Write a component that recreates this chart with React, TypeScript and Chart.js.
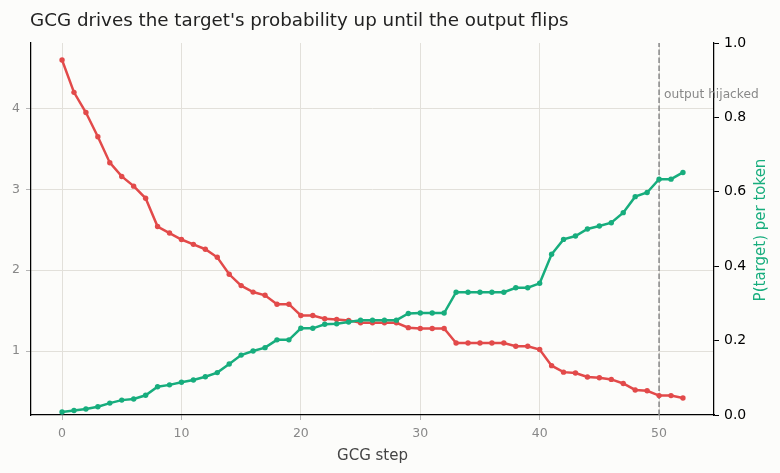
import { useEffect, useRef } from "react"
import { Chart, registerables, type ChartConfiguration, type Plugin } from "chart.js"

Chart.register(...registerables)

// GCG optimisation steps
const steps = [
  0, 1, 2, 3, 4, 5, 6, 7, 8, 9, 10, 11, 12, 13, 14, 15, 16, 17, 18, 19, 20, 21, 22, 23, 24, 25, 26,
  27, 28, 29, 30, 31, 32, 33, 34, 35, 36, 37, 38, 39, 40, 41, 42, 43, 44, 45, 46, 47, 48, 49, 50, 51, 52,
]

// loss on the target string (left axis)
const targetLoss = [
  4.6, 4.2, 3.95, 3.65, 3.33, 3.16, 3.04, 2.89, 2.54, 2.46, 2.38, 2.32, 2.26, 2.16, 1.95, 1.81, 1.73,
  1.69, 1.58, 1.58, 1.44, 1.44, 1.4, 1.39, 1.38, 1.35, 1.35, 1.35, 1.35, 1.29, 1.28, 1.28, 1.28, 1.1,
  1.1, 1.1, 1.1, 1.1, 1.06, 1.06, 1.02, 0.82, 0.74, 0.73, 0.68, 0.67, 0.65, 0.6, 0.52, 0.51, 0.45,
  0.45, 0.42,
]

// P(target) per token (right axis)
const targetProb = [
  0.008, 0.012, 0.016, 0.022, 0.032, 0.04, 0.043, 0.053, 0.076, 0.081, 0.088, 0.094, 0.103, 0.114,
  0.137, 0.161, 0.172, 0.181, 0.202, 0.202, 0.233, 0.233, 0.244, 0.245, 0.25, 0.255, 0.255, 0.255,
  0.255, 0.273, 0.274, 0.274, 0.274, 0.33, 0.33, 0.33, 0.33, 0.33, 0.342, 0.342, 0.354, 0.432, 0.472,
  0.481, 0.5, 0.508, 0.517, 0.544, 0.587, 0.598, 0.634, 0.634, 0.652,
]

const stepTicks = [0, 10, 20, 30, 40, 50]
const lossTicks = [1, 2, 3, 4]
const probTicks = [0, 0.2, 0.4, 0.6, 0.8, 1.0]
const hijackStep = 50

const TITLE = "GCG drives the target's probability up until the output flips"
const FONT = '"DejaVu Sans", sans-serif'
const RED = "#e24a4a"
const GREEN = "#17ad7d"
const GRID = "#e2e0da"
const BG = "#fcfcfa"

const textPlugin: Plugin = {
  id: "texts",
  afterDraw(chart) {
    const { ctx, chartArea, scales } = chart
    ctx.save()
    ctx.textBaseline = "alphabetic"

    ctx.fillStyle = "#222"
    ctx.font = `18.3px ${FONT}`
    ctx.textAlign = "left"
    ctx.fillText(TITLE, 30, 26)

    ctx.fillStyle = "#888"
    ctx.font = `12.2px ${FONT}`
    ctx.fillText("output hijacked", scales.x.getPixelForValue(hijackStep) + 5, 98)

    ctx.fillStyle = "#444"
    ctx.font = `15px ${FONT}`
    ctx.textAlign = "center"
    ctx.fillText("GCG step", (chartArea.left + chartArea.right) / 2, 460)

    ctx.fillStyle = GREEN
    ctx.translate(765, (chartArea.top + chartArea.bottom) / 2 + 1)
    ctx.rotate(-Math.PI / 2)
    ctx.fillText("P(target) per token", 0, 0)
    ctx.restore()
  },
}

export default function App() {
  const canvasRef = useRef<HTMLCanvasElement>(null)

  useEffect(() => {
    document.body.style.margin = "0"
    if (!canvasRef.current) return
    const ctx = canvasRef.current.getContext("2d")
    if (!ctx) return

    const config: ChartConfiguration<"line"> = {
      type: "line",
      data: {
        datasets: [
          {
            data: steps.map((s, i) => ({ x: s, y: targetProb[i] })),
            yAxisID: "y1",
            borderColor: GREEN,
            backgroundColor: GREEN,
            borderWidth: 2.5,
            pointRadius: 2.7,
            pointBorderWidth: 0,
            tension: 0,
            order: 1,
          },
          {
            data: steps.map((s, i) => ({ x: s, y: targetLoss[i] })),
            yAxisID: "y",
            borderColor: RED,
            backgroundColor: RED,
            borderWidth: 2.5,
            pointRadius: 2.7,
            pointBorderWidth: 0,
            tension: 0,
            order: 2,
          },
          {
            data: [
              { x: hijackStep, y: 0 },
              { x: hijackStep, y: 1 },
            ],
            yAxisID: "y1",
            borderColor: "#888",
            borderWidth: 1.5,
            borderDash: [5.5, 2.5],
            pointRadius: 0,
            order: 3,
          },
        ],
      },
      options: {
        animation: false,
        responsive: true,
        maintainAspectRatio: false,
        events: [],
        layout: { padding: { top: 43, left: 0, right: 0, bottom: 0 } },
        plugins: {
          legend: { display: false },
          tooltip: { enabled: false },
          title: { display: false },
        },
        scales: {
          x: {
            type: "linear",
            min: -2.6,
            max: 54.6,
            afterBuildTicks: (s) => {
              s.ticks = stepTicks.map((v) => ({ value: v }))
            },
            afterFit: (s) => {
              s.height = 58
            },
            grid: { color: GRID, lineWidth: 1, tickLength: 5, tickColor: "#b5b5b5" },
            border: { color: "#000", width: 1.25 },
            ticks: {
              color: "#888",
              font: { family: FONT, size: 12.5 },
              padding: 6,
              maxRotation: 0,
              autoSkip: false,
            },
          },
          y: {
            type: "linear",
            position: "left",
            min: 0.21,
            max: 4.81,
            afterBuildTicks: (s) => {
              s.ticks = lossTicks.map((v) => ({ value: v }))
            },
            afterFit: (s) => {
              s.width = 31
            },
            grid: { color: GRID, lineWidth: 1, tickLength: 5, tickColor: "#b5b5b5" },
            border: { color: "#000", width: 1.25 },
            ticks: { color: "#888", font: { family: FONT, size: 12.5 }, padding: 6 },
          },
          y1: {
            type: "linear",
            position: "right",
            min: 0,
            max: 1,
            afterBuildTicks: (s) => {
              s.ticks = probTicks.map((v) => ({ value: v }))
            },
            afterFit: (s) => {
              s.width = 66
            },
            grid: { drawOnChartArea: false, tickLength: 5, tickColor: "#000" },
            border: { color: "#000", width: 1.25 },
            ticks: {
              color: "#000",
              font: { family: FONT, size: 14 },
              padding: 5,
              callback: (v) => Number(v).toFixed(1),
            },
          },
        },
      },
      plugins: [textPlugin],
    }

    const chart = new Chart(ctx, config)
    return () => chart.destroy()
  }, [])

  return (
    <div style={{ width: 780, height: 473, background: BG, position: "relative" }}>
      <canvas ref={canvasRef} />
    </div>
  )
}
